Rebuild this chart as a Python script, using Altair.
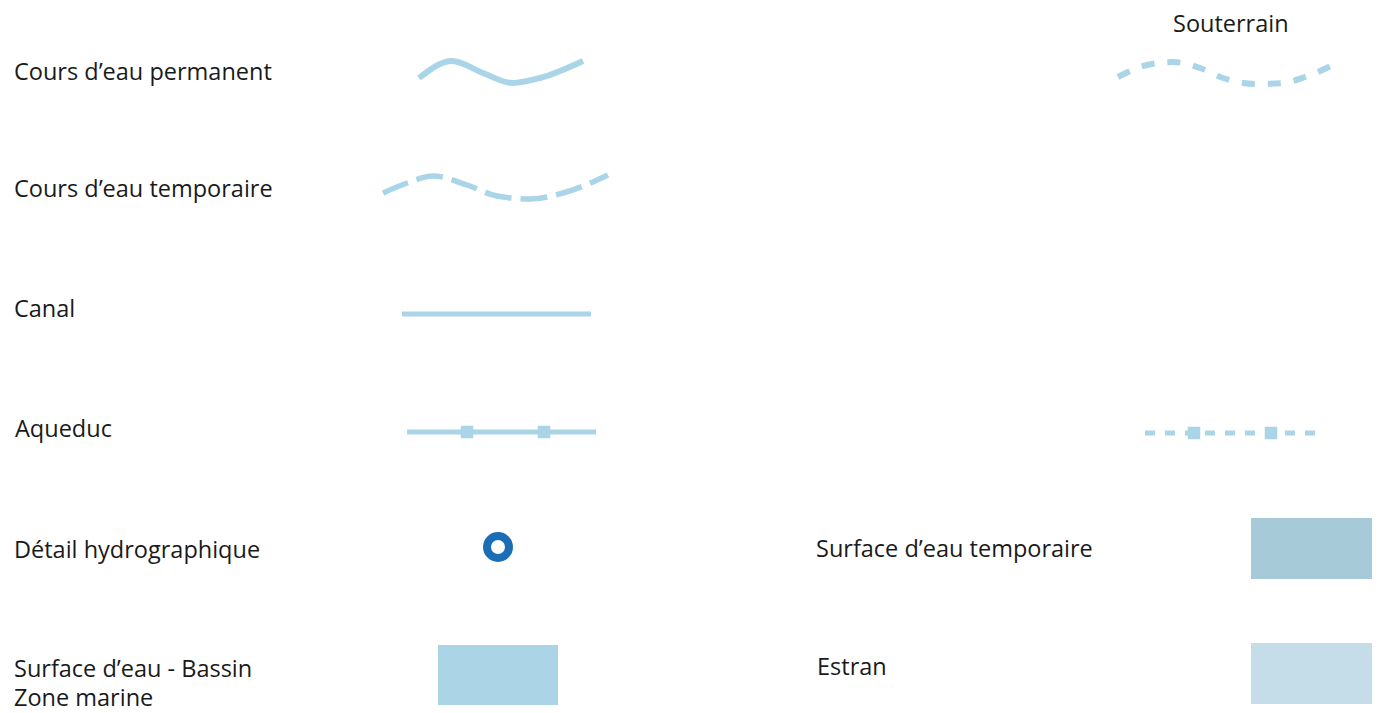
import altair as alt
import pandas as pd

# ---- data ----
label_text = ["Souterrain", "Cours d’eau permanent", "Cours d’eau temporaire", "Canal",
              "Aqueduc", "Détail hydrographique", "Surface d’eau - Bassin", "Zone marine",
              "Surface d’eau temporaire", "Estran"]
label_x = [1173, 14, 14, 14, 15, 14, 14, 14, 816, 817]
label_y = [32, 80, 197, 317, 437, 558, 677, 706, 557, 675]

perm_x = [419, 452, 483, 512, 540, 583]
perm_y = [78, 61, 73, 83, 78, 61]

temp_x = [383, 407, 433, 467, 497, 530, 563, 608]
temp_y = [193, 183, 176, 185, 196, 199, 193, 175]

sout_x = [1118, 1147, 1173, 1200, 1223, 1257, 1283, 1305, 1333]
sout_y = [77, 65, 62, 68, 78, 84, 83, 77, 65]

canal_x = [402, 591]
canal_y = [314, 314]

aq_x = [407, 596]
aq_y = [432, 432]
aq_sq_x = [467, 544]
aq_sq_y = [432, 432]

aqs_x = [1145, 1318]
aqs_y = [433, 433]
aqs_sq_x = [1194, 1271]
aqs_sq_y = [433, 433]

detail_x = [498]
detail_y = [547]

rect_name = ["Bassin", "Temporaire", "Estran"]
rect_x1 = [438, 1251, 1251]
rect_x2 = [558, 1372, 1372]
rect_y1 = [645, 518, 643]
rect_y2 = [705, 579, 704]
rect_col = ["#abd4e7", "#a7cad9", "#c5dde8"]

LINE = "#aad4e8"

W, H = 1365, 705
xs = alt.Scale(domain=[8, 8 + W], nice=False, zero=False)
ys = alt.Scale(domain=[8, 8 + H], nice=False, zero=False, reverse=True)
X = lambda f="x": alt.X(f"{f}:Q", scale=xs, axis=None)
Y = lambda f="y": alt.Y(f"{f}:Q", scale=ys, axis=None)


def line_layer(xv, yv, width, dash=None, interp="linear"):
    df = pd.DataFrame({"x": xv, "y": yv, "o": range(len(xv))})
    kw = dict(color=LINE, strokeWidth=width, interpolate=interp, strokeCap="butt")
    if dash:
        kw["strokeDash"] = dash
    return alt.Chart(df).mark_line(**kw).encode(x=X(), y=Y(), order="o:Q")


layers = []
layers.append(line_layer(perm_x, perm_y, 6, interp="monotone"))
layers.append(line_layer(temp_x, temp_y, 5.5, dash=[27, 9], interp="monotone"))
layers.append(line_layer(sout_x, sout_y, 6, dash=[13, 13], interp="monotone"))
layers.append(line_layer(canal_x, canal_y, 5))
layers.append(line_layer(aq_x, aq_y, 5))
layers.append(line_layer(aqs_x, aqs_y, 5, dash=[10, 10]))

sq = pd.DataFrame({"x": aq_sq_x + aqs_sq_x, "y": aq_sq_y + aqs_sq_y})
layers.append(alt.Chart(sq).mark_square(size=156, color=LINE, opacity=1).encode(x=X(), y=Y()))

det = pd.DataFrame({"x": detail_x, "y": detail_y})
layers.append(alt.Chart(det).mark_point(shape="circle", filled=False, size=484, strokeWidth=8,
                                        color="#1b6db5", opacity=1).encode(x=X(), y=Y()))

rects = pd.DataFrame({"name": rect_name, "x": rect_x1, "x2": rect_x2, "y": rect_y1, "y2": rect_y2,
                      "c": rect_col})
layers.append(alt.Chart(rects).mark_rect().encode(
    x=X(), x2="x2:Q", y=Y(), y2="y2:Q", color=alt.Color("c:N", scale=None)))

labels = pd.DataFrame({"t": label_text, "x": label_x, "y": label_y})
layers.append(alt.Chart(labels).mark_text(align="left", baseline="alphabetic", font="Open Sans",
                                          fontSize=23.5, color="#1a1a1a").encode(
    x=X(), y=Y(), text="t:N"))

chart = alt.layer(*layers).properties(
    width=W, height=H, padding=0, autosize=alt.AutoSizeParams(type="none")
).configure_view(stroke=None)

chart.save("out.html", embed_options={"renderer": "svg", "actions": False})
